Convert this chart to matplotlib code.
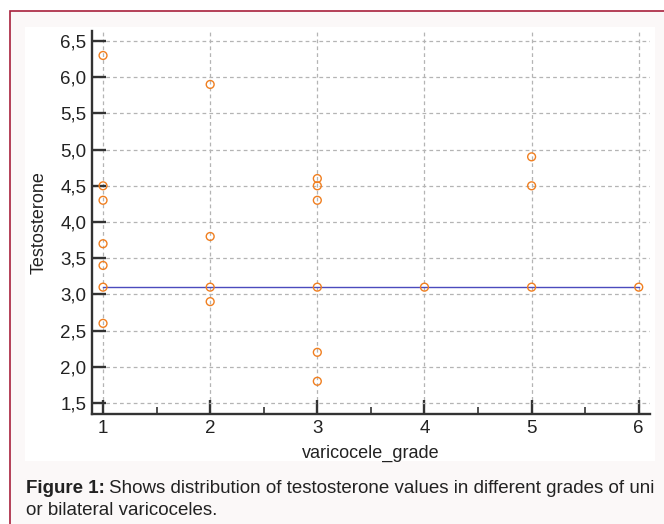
import matplotlib
matplotlib.use("Agg")
import matplotlib.pyplot as plt
from matplotlib.patches import Rectangle
from matplotlib.ticker import MultipleLocator, FuncFormatter

# testosterone values per varicocele grade
grade = [1, 1, 1, 1, 1, 1, 1,
         2, 2, 2, 2,
         3, 3, 3, 3, 3, 3,
         4,
         5, 5, 5,
         6]
testosterone = [6.3, 4.5, 4.3, 3.7, 3.4, 3.1, 2.6,
                5.9, 3.8, 3.1, 2.9,
                4.6, 4.5, 4.3, 3.1, 2.2, 1.8,
                3.1,
                4.9, 4.5, 3.1,
                3.1]
ref_level = 3.1
ref_x = [1, 6]

W, H = 664, 524
plt.rcParams['font.family'] = ['Liberation Sans', 'DejaVu Sans']
fig = plt.figure(figsize=(W / 100, H / 100), dpi=100)
fig.patch.set_facecolor("white")

def px(x0, y0, w, h):
    return [x0 / W, 1 - (y0 + h) / H, w / W, h / H]

# page frame and inner white panel
fig.patches.append(Rectangle((10 / W, -0.1), 1.1, 1 - 11 / H + 0.1, transform=fig.transFigure,
                             facecolor="#fbf8f8", edgecolor="#a8203c", linewidth=1.2, zorder=-2))
fig.patches.append(Rectangle((25 / W, 1 - 461 / H), 630 / W, 434 / H, transform=fig.transFigure,
                             facecolor="white", edgecolor="none", zorder=-1))

ax = fig.add_axes(px(92, 31, 558, 383))
ax.set_zorder(1)
ax.set_facecolor("none")
ax.scatter(grade, testosterone, s=32, facecolors="none", edgecolors="#f07f20", linewidths=1.0, zorder=3)
ax.plot(ref_x, [ref_level, ref_level], color="#4b4bbd", linewidth=1.0, zorder=2)

ax.set_xlim(0.897, 6.105)
ax.set_ylim(1.348, 6.638)
ax.xaxis.set_major_locator(MultipleLocator(1))
ax.xaxis.set_minor_locator(MultipleLocator(0.5))
ax.yaxis.set_major_locator(MultipleLocator(0.5))
ax.yaxis.set_major_formatter(FuncFormatter(lambda v, p: f"{v:.1f}".replace(".", ",")))

for s in ["top", "right"]:
    ax.spines[s].set_visible(False)
for s in ["left", "bottom"]:
    ax.spines[s].set_color("#333333")
    ax.spines[s].set_linewidth(1.7)

ax.tick_params(axis="both", which="major", direction="in", length=10, width=1.7,
               color="#333333", labelsize=13.5, labelcolor="#222222", pad=4)
ax.tick_params(axis="x", which="minor", direction="in", length=5, width=1.2, color="#333333")
ax.grid(True, which="major", linestyle=(0, (3, 2.5)), color="#b4b4b4", linewidth=0.9)

ax.set_xlabel("varicocele_grade", fontsize=13, color="#222222", labelpad=6)
ax.set_ylabel("Testosterone", fontsize=13, color="#222222", labelpad=9)

# caption
cap_size = 13.5
t1 = fig.text(26 / W, 1 - 493 / H, "Figure 1:", fontsize=cap_size, fontweight="bold", color="#222222")
fig.canvas.draw()
bb = t1.get_window_extent()
fig.text((bb.x1 + 4) / W, 1 - 493 / H, "Shows distribution of testosterone values in different grades of uni",
         fontsize=cap_size, color="#222222")
fig.text(26 / W, 1 - 515 / H, "or bilateral varicoceles.", fontsize=cap_size, color="#222222")

fig.savefig("out.png", dpi=100)
